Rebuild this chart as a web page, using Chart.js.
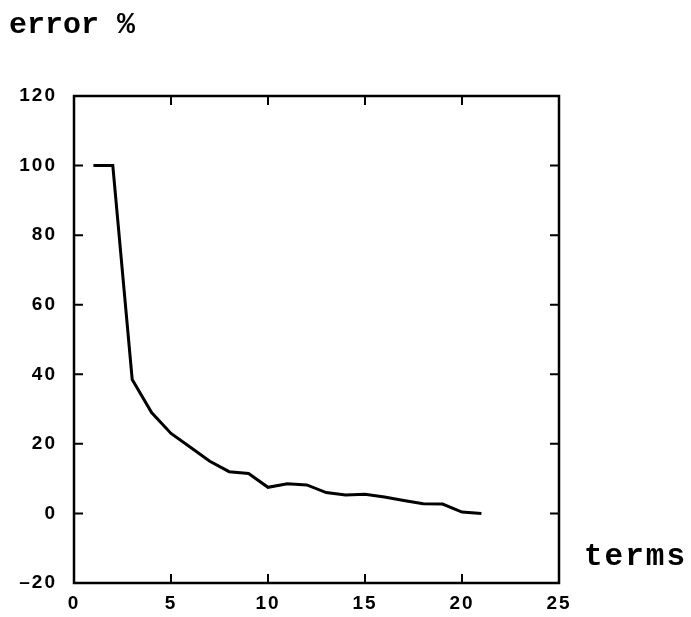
<!DOCTYPE html>
<html>
<head>
<meta charset="utf-8">
<script src="https://cdn.jsdelivr.net/npm/chart.js@4.4.1/dist/chart.umd.min.js"></script>
<style>
  html, body { margin: 0; padding: 0; background: #ffffff; }
  #wrap { width: 691px; height: 617px; position: relative; }
</style>
</head>
<body>
<div id="wrap"><canvas id="c" width="691" height="617"></canvas></div>
<script>
// ---- data ----
const terms = [1, 2, 3, 4, 5, 6, 7, 8, 9, 10, 11, 12, 13, 14, 15, 16, 17, 18, 19, 20, 21];
const errorPct = [100, 100, 38.5, 29, 23, 19, 15, 12, 11.5, 7.5, 8.5, 8.2, 6, 5.3, 5.5, 4.7, 3.7, 2.8, 2.7, 0.4, 0];
const xTicks = [0, 5, 10, 15, 20, 25];
const yTicks = [-20, 0, 20, 40, 60, 80, 100, 120];
const yTitle = 'error %';
const xTitle = 'terms';

const points = terms.map((t, i) => ({ x: t, y: errorPct[i] }));

const framePlugin = {
  id: 'frame',
  beforeDraw(chart) {
    chart.ctx.letterSpacing = '2px';
  },
  afterDraw(chart) {
    const ctx = chart.ctx;
    const a = chart.chartArea;
    const xs = chart.scales.x, ys = chart.scales.y;
    ctx.save();
    ctx.letterSpacing = '0px';
    ctx.strokeStyle = '#000';
    ctx.lineWidth = 2.5;
    ctx.beginPath();
    ctx.rect(a.left, a.top, a.right - a.left, a.bottom - a.top);
    ctx.stroke();
    ctx.lineWidth = 2;
    const L = 9;
    ctx.beginPath();
    xTicks.forEach(v => {
      const px = xs.getPixelForValue(v);
      ctx.moveTo(px, a.bottom); ctx.lineTo(px, a.bottom - L);
      ctx.moveTo(px, a.top); ctx.lineTo(px, a.top + L);
    });
    yTicks.forEach(v => {
      const py = ys.getPixelForValue(v);
      ctx.moveTo(a.left, py); ctx.lineTo(a.left + L, py);
      ctx.moveTo(a.right, py); ctx.lineTo(a.right - L, py);
    });
    ctx.stroke();
    // titles
    ctx.fillStyle = '#000';
    ctx.textBaseline = 'alphabetic';
    ctx.textAlign = 'left';
    ctx.font = 'bold 30px "Liberation Mono", "DejaVu Sans Mono", monospace';
    ctx.letterSpacing = '0px';
    ctx.fillText(yTitle, 9, 33);
    ctx.font = 'bold 31px "Liberation Mono", "DejaVu Sans Mono", monospace';
    ctx.letterSpacing = '2px';
    ctx.fillText(xTitle, 584, 565);
    ctx.restore();
  }
};

new Chart(document.getElementById('c'), {
  type: 'line',
  data: {
    datasets: [{
      data: points,
      borderColor: '#000',
      borderWidth: 3,
      pointRadius: 0,
      tension: 0,
      fill: false
    }]
  },
  options: {
    responsive: false,
    animation: false,
    devicePixelRatio: 1,
    layout: { padding: { top: 96, right: 132, left: 0, bottom: 0 } },
    plugins: { legend: { display: false }, tooltip: { enabled: false }, title: { display: false } },
    scales: {
      x: {
        type: 'linear', min: 0, max: 25,
        afterFit(s) { s.height = 34; },
        afterBuildTicks(s) { s.ticks = xTicks.map(v => ({ value: v })); },
        grid: { display: false, drawTicks: false },
        border: { display: false },
        ticks: { color: '#000', padding: 9, maxRotation: 0, font: { family: '"Liberation Sans", Arial, sans-serif', size: 19, weight: 'bold' } }
      },
      y: {
        type: 'linear', min: -20, max: 120,
        afterFit(s) { s.width = 74; },
        afterBuildTicks(s) { s.ticks = yTicks.map(v => ({ value: v })); },
        grid: { display: false, drawTicks: false },
        border: { display: false },
        ticks: { color: '#000', padding: 17, font: { family: '"Liberation Sans", Arial, sans-serif', size: 19, weight: 'bold' },
          callback: v => (v < 0 ? '\u2013' + Math.abs(v) : String(v)) }
      }
    }
  },
  plugins: [framePlugin]
});
</script>
</body>
</html>
